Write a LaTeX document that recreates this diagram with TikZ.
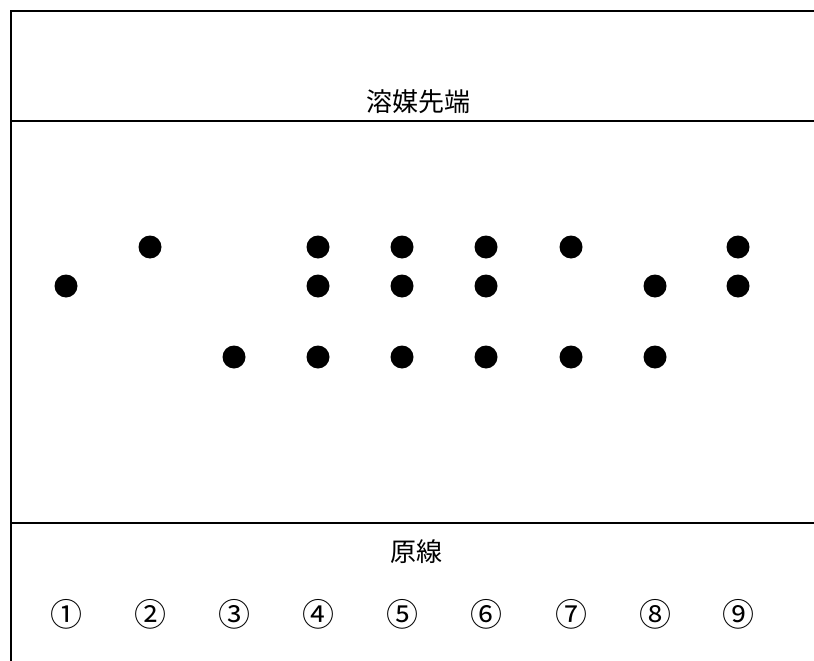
\documentclass[tikz,border=0pt]{standalone}
\usepackage{fontspec}
\newfontfamily\cjk{Noto Sans CJK JP}
\usetikzlibrary{positioning}

\begin{document}
\begin{tikzpicture}[x=1pt,y=-1pt,ele/.style={fill=black,circle,minimum size=23pt,inner sep=0pt},lbl/.style={font=\cjk\fontsize{26}{30}\selectfont,inner sep=0pt},num/.style={font=\cjk\fontsize{32}{36}\selectfont,inner sep=0pt}]
\useasboundingbox (0,0) rectangle (814,661);

% plate
\draw[line width=2.4pt] (11,661) -- (11,11) -- (814,11);
\draw[line width=2.4pt] (11,121) -- (814,121);
\draw[line width=2.4pt] (11,523) -- (814,523);

\node[lbl] (front) at (418,102) {溶媒先端};
\node[lbl] (origin) at (416,552) {原線};

  \node[num] (n1) at (66,614) {①};
  \node[num] (n2) at (150,614) {②};
  \node[num] (n3) at (234,614) {③};
  \node[num] (n4) at (318,614) {④};
  \node[num] (n5) at (402,614) {⑤};
  \node[num] (n6) at (486,614) {⑥};
  \node[num] (n7) at (571,614) {⑦};
  \node[num] (n8) at (655,614) {⑧};
  \node[num] (n9) at (738,614) {⑨};

  % spots
  \node[ele] (s1b) at (66,286) {};
  \node[ele] (s2a) at (150,247) {};
  \node[ele] (s3c) at (234,357) {};
  \node[ele] (s4a) at (318,247) {};
  \node[ele] (s4b) at (318,286) {};
  \node[ele] (s4c) at (318,357) {};
  \node[ele] (s5a) at (402,247) {};
  \node[ele] (s5b) at (402,286) {};
  \node[ele] (s5c) at (402,357) {};
  \node[ele] (s6a) at (486,247) {};
  \node[ele] (s6b) at (486,286) {};
  \node[ele] (s6c) at (486,357) {};
  \node[ele] (s7a) at (571,247) {};
  \node[ele] (s7c) at (571,357) {};
  \node[ele] (s8b) at (655,286) {};
  \node[ele] (s8c) at (655,357) {};
  \node[ele] (s9a) at (738,247) {};
  \node[ele] (s9b) at (738,286) {};
\end{tikzpicture}
\end{document}
